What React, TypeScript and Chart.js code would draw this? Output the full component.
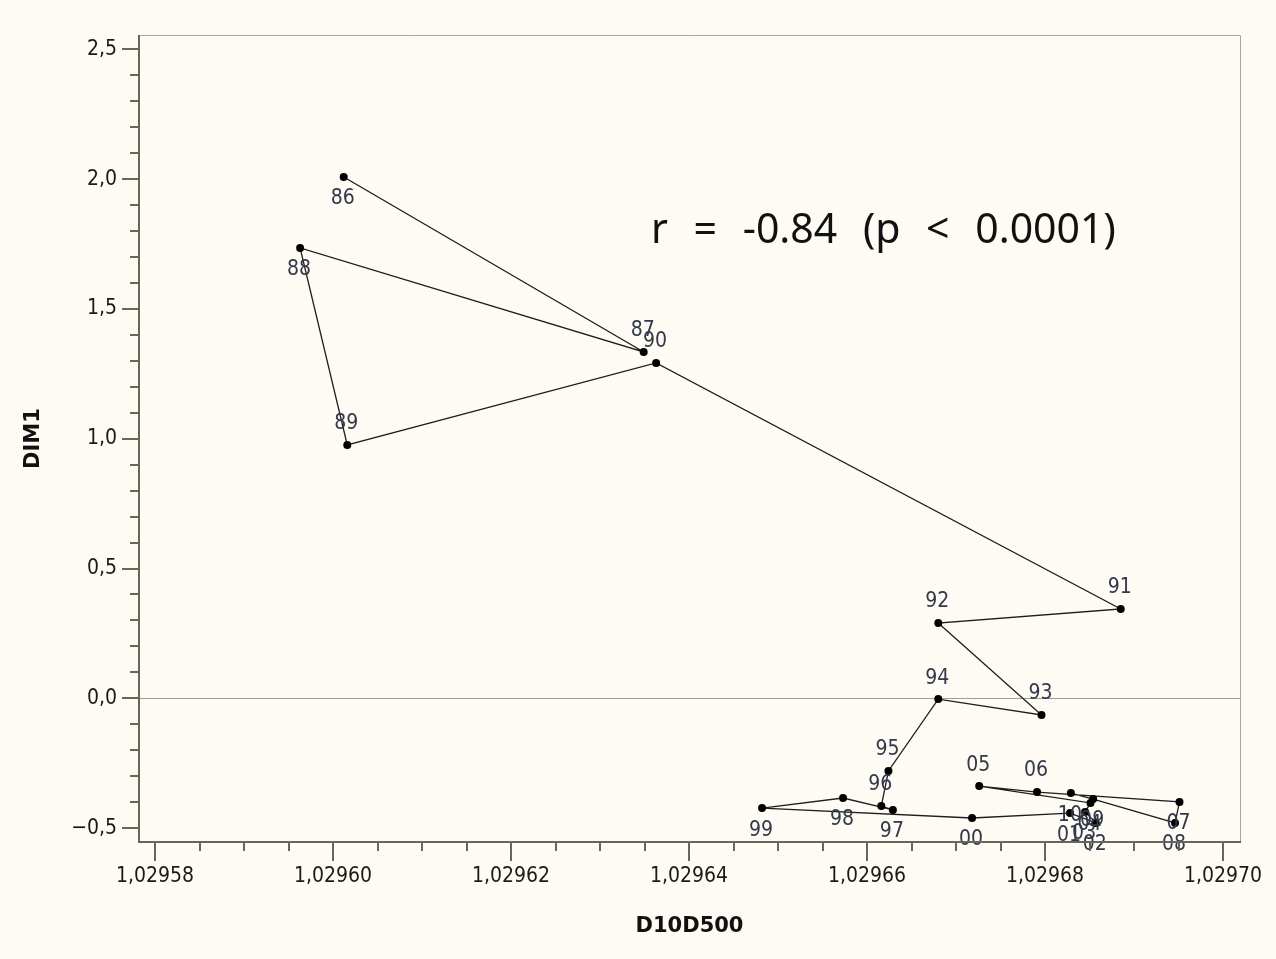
import { useEffect, useRef } from 'react';
import { Chart, registerables } from 'chart.js';

Chart.register(...registerables);

// ---- data ----
const years = ['86', '87', '88', '89', '90', '91', '92', '93', '94', '95', '96', '97', '98', '99', '00', '01', '02', '03', '04', '05', '06', '07', '08', '09', '10'];
const d10d500 = [
  1.0296012, 1.0296349, 1.0295963, 1.0296016, 1.0296363, 1.0296885, 1.029668, 1.0296796, 1.029668, 1.0296624,
  1.0296616, 1.0296629, 1.0296573, 1.0296482, 1.0296718, 1.0296828, 1.0296857, 1.0296845, 1.0296851, 1.0296726,
  1.0296791, 1.0296951, 1.0296946, 1.0296854, 1.0296829,
];
const dim1 = [
  2.008, 1.334, 1.735, 0.976, 1.292, 0.344, 0.29, -0.064, -0.003, -0.28,
  -0.415, -0.43, -0.384, -0.423, -0.461, -0.442, -0.48, -0.438, -0.403, -0.338,
  -0.361, -0.399, -0.48, -0.388, -0.365,
];
const xTickValues = [1.02958, 1.0296, 1.02962, 1.02964, 1.02966, 1.02968, 1.0297];
const xTickLabels = ['1,02958', '1,02960', '1,02962', '1,02964', '1,02966', '1,02968', '1,02970'];
const yTickValues = [-0.5, 0, 0.5, 1, 1.5, 2, 2.5];
const yTickLabels = ['\u22120,5', '0,0', '0,5', '1,0', '1,5', '2,0', '2,5'];
const labelsAbove = ['87', '89', '90', '91', '92', '93', '94', '95', '96', '05', '06'];
const xTitle = 'D10D500';
const yTitle = 'DIM1';
const annotationText = 'r = -0.84 (p < 0.0001)';

// ---- style ----
const BG = '#fdfbf3';
const AXIS = '#6a6556';
const TICK_FONT = '"DejaVu Sans Condensed", "DejaVu Sans", sans-serif';

const decorPlugin = {
  id: 'decor',
  afterDraw(chart: any) {
    const { ctx, chartArea } = chart;
    const xs = chart.scales.x;
    const ys = chart.scales.y;
    ctx.save();
    // frame
    ctx.strokeStyle = '#a8a59c';
    ctx.lineWidth = 1;
    ctx.beginPath();
    ctx.moveTo(chartArea.left, chartArea.top + 0.5);
    ctx.lineTo(chartArea.right + 0.5, chartArea.top + 0.5);
    ctx.lineTo(chartArea.right + 0.5, chartArea.bottom);
    ctx.stroke();
    ctx.strokeStyle = AXIS;
    ctx.lineWidth = 2;
    ctx.beginPath();
    ctx.moveTo(chartArea.left, chartArea.top);
    ctx.lineTo(chartArea.left, chartArea.bottom);
    ctx.lineTo(chartArea.right + 1, chartArea.bottom);
    ctx.stroke();
    // ticks
    ctx.lineWidth = 2;
    ctx.beginPath();
    const xStep = (xTickValues[1] - xTickValues[0]) / 4;
    const nx = (xTickValues.length - 1) * 4;
    for (let k = 0; k <= nx; k++) {
      const px = Math.round(xs.getPixelForValue(xTickValues[0] + k * xStep));
      const len = k % 4 === 0 ? 19 : 9;
      ctx.moveTo(px, chartArea.bottom);
      ctx.lineTo(px, chartArea.bottom + len);
    }
    const yStep = (yTickValues[1] - yTickValues[0]) / 5;
    const ny = (yTickValues.length - 1) * 5;
    for (let k = 0; k <= ny; k++) {
      const py = Math.round(ys.getPixelForValue(yTickValues[0] + k * yStep));
      const len = k % 5 === 0 ? 17 : 9;
      ctx.moveTo(chartArea.left, py);
      ctx.lineTo(chartArea.left - len, py);
    }
    ctx.stroke();
    // annotation
    ctx.fillStyle = '#111';
    ctx.font = '41px "Noto Sans", "Open Sans", sans-serif';
    (ctx as any).wordSpacing = '15px';
    ctx.textAlign = 'left';
    ctx.textBaseline = 'alphabetic';
    ctx.fillText(annotationText, 651, 243);
    ctx.restore();
  },
  afterDatasetsDraw(chart: any) {
    const { ctx } = chart;
    const meta = chart.getDatasetMeta(0);
    ctx.save();
    ctx.fillStyle = '#33384a';
    ctx.font = '21px ' + TICK_FONT;
    ctx.textAlign = 'center';
    ctx.textBaseline = 'middle';
    meta.data.forEach((el: any, i: number) => {
      const above = labelsAbove.includes(years[i]);
      ctx.fillText(years[i], el.x - 1, el.y + (above ? -21 : 22));
    });
    ctx.restore();
  },
};

export default function App() {
  const ref = useRef<HTMLCanvasElement | null>(null);
  useEffect(() => {
    document.body.style.margin = '0';
    document.body.style.background = BG;
    const chart = new Chart(ref.current as HTMLCanvasElement, {
      type: 'scatter',
      data: {
        datasets: [
          {
            data: d10d500.map((x, i) => ({ x, y: dim1[i] })),
            showLine: true,
            borderColor: '#1e1e1e',
            borderWidth: 1.3,
            pointRadius: 4,
            pointBackgroundColor: '#000',
            pointBorderWidth: 0,
            clip: false as any,
          },
        ],
      },
      options: {
        animation: false,
        responsive: true,
        maintainAspectRatio: false,
        layout: { padding: { top: 35, right: 36, bottom: 0, left: 0 } },
        plugins: { legend: { display: false }, tooltip: { enabled: false } },
        scales: {
          x: {
            type: 'linear',
            min: 1.0295782,
            max: 1.0297019,
            afterBuildTicks: (s: any) => {
              s.ticks = xTickValues.map((v) => ({ value: v }));
            },
            afterFit: (s: any) => {
              s.height = 117;
            },
            ticks: {
              autoSkip: false,
              maxRotation: 0,
              padding: 4,
              color: '#1a1a1a',
              font: { family: TICK_FONT, size: 21 },
              callback: (_v: any, i: number) => xTickLabels[i],
            },
            grid: { drawOnChartArea: false, drawTicks: true, tickLength: 18, tickColor: 'transparent' },
            border: { display: false },
            title: {
              display: true,
              text: xTitle,
              color: '#111',
              font: { family: '"DejaVu Sans", sans-serif', size: 21, weight: 'bold' },
              padding: { top: 0, bottom: 20 },
            },
          },
          y: {
            type: 'linear',
            min: -0.5535,
            max: 2.555,
            afterBuildTicks: (s: any) => {
              s.ticks = yTickValues.map((v) => ({ value: v }));
            },
            afterFit: (s: any) => {
              s.width = 139;
            },
            ticks: {
              autoSkip: false,
              padding: 5,
              color: '#1a1a1a',
              font: { family: TICK_FONT, size: 21 },
              callback: (_v: any, i: number) => yTickLabels[i],
            },
            grid: {
              drawOnChartArea: true,
              drawTicks: true,
              tickLength: 17,
              tickColor: 'transparent',
              color: (c: any) => (c.tick && c.tick.value === 0 ? '#a09d95' : 'transparent'),
              lineWidth: 1,
            },
            border: { display: false },
            title: {
              display: true,
              text: yTitle,
              color: '#111',
              font: { family: '"DejaVu Sans", sans-serif', size: 21, weight: 'bold' },
              padding: { top: 21, bottom: 0 },
            },
          },
        },
      },
      plugins: [decorPlugin],
    });
    return () => chart.destroy();
  }, []);
  return (
    <div style={{ position: 'fixed', left: 0, top: 0, width: 1276, height: 959, background: BG }}>
      <canvas ref={ref} />
    </div>
  );
}
